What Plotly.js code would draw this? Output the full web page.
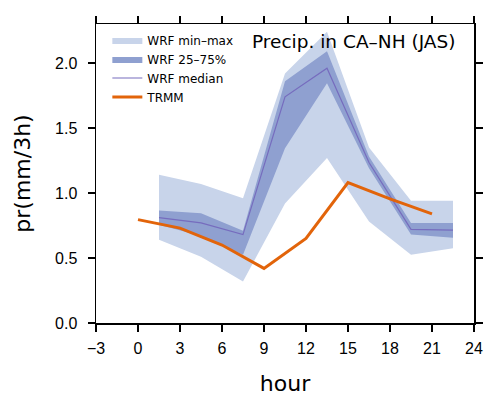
<!DOCTYPE html>
<html>
<head>
<meta charset="utf-8">
<script src="https://cdn.plot.ly/plotly-3.0.1.min.js"></script>
<style>html,body{margin:0;padding:0;background:#fff;}#chart{width:487px;height:398px;}</style>
</head>
<body>
<div id="chart"></div>
<script>
var hoursWRF = [1.5, 4.5, 7.5, 10.5, 13.5, 16.5, 19.5, 22.5];
var wrfMin = [0.64, 0.51, 0.32, 0.92, 1.27, 0.78, 0.525, 0.575];
var wrfMax = [1.14, 1.07, 0.96, 1.92, 2.24, 1.35, 0.94, 0.94];
var wrfP25 = [0.755, 0.67, 0.525, 1.345, 1.845, 1.19, 0.68, 0.655];
var wrfP75 = [0.865, 0.845, 0.71, 1.86, 2.09, 1.28, 0.77, 0.77];
var wrfMed = [0.81, 0.77, 0.68, 1.74, 1.96, 1.235, 0.72, 0.715];
var hoursTRMM = [0, 3, 6, 9, 12, 15, 18, 21];
var trmm = [0.795, 0.73, 0.60, 0.42, 0.65, 1.08, 0.955, 0.84];
var xTicks = [-3, 0, 3, 6, 9, 12, 15, 18, 21, 24];
var yTicks = [0.0, 0.5, 1.0, 1.5, 2.0];

var cMinMax = 'rgb(200,212,234)';
var cIQR = 'rgb(143,160,208)';
var cMed = 'rgb(118,108,190)';
var cTRMM = 'rgb(226,100,10)';

var traces = [
  {x: hoursWRF, y: wrfMin, mode: 'lines', line: {width: 0, color: cMinMax}, showlegend: false, hoverinfo: 'skip'},
  {x: hoursWRF, y: wrfMax, mode: 'lines', line: {width: 0, color: cMinMax}, fill: 'tonexty', fillcolor: cMinMax, name: 'WRF min\u2013max'},
  {x: hoursWRF, y: wrfP25, mode: 'lines', line: {width: 0, color: cIQR}, showlegend: false, hoverinfo: 'skip'},
  {x: hoursWRF, y: wrfP75, mode: 'lines', line: {width: 0, color: cIQR}, fill: 'tonexty', fillcolor: cIQR, name: 'WRF 25\u201375%'},
  {x: hoursWRF, y: wrfMed, mode: 'lines', line: {width: 1.2, color: cMed}, name: 'WRF median'},
  {x: hoursTRMM, y: trmm, mode: 'lines', line: {width: 3, color: cTRMM}, name: 'TRMM'}
];

var tickFont = {family: 'Liberation Sans, Arial, sans-serif', size: 16, color: '#000'};
var axisCommon = {
  showline: true, linecolor: '#000', linewidth: 1.5, mirror: 'ticks',
  ticks: 'outside', ticklen: 7, tickwidth: 1.2, tickcolor: '#000',
  showgrid: false, zeroline: false, tickfont: tickFont
};

var layout = {
  width: 487, height: 398,
  margin: {l: 96, r: 13, t: 24, b: 75},
  paper_bgcolor: '#fff', plot_bgcolor: '#fff',
  font: {family: 'DejaVu Sans, sans-serif', color: '#000'},
  xaxis: Object.assign({}, axisCommon, {
    range: [-3, 24], tickvals: xTicks, ticktext: xTicks.map(function(v){return v < 0 ? '\u2212' + Math.abs(v) : String(v);}),
    ticklabelstandoff: 3,
    title: {text: 'hour', font: {family: 'DejaVu Sans, sans-serif', size: 22, color: '#000'}, standoff: 20}
  }),
  yaxis: Object.assign({}, axisCommon, {
    range: [0, 2.3], tickvals: yTicks, ticktext: yTicks.map(function(v){return v.toFixed(1);}),
    ticklabelstandoff: 7,
    title: {text: 'pr(mm/3h)', font: {family: 'DejaVu Sans, sans-serif', size: 22, color: '#000'}, standoff: 18}
  }),
  showlegend: true,
  legend: {x: 0.03, y: 0.995, xanchor: 'left', yanchor: 'top', bgcolor: 'rgba(0,0,0,0)',
           traceorder: 'normal',
           font: {family: 'DejaVu Sans, sans-serif', size: 12, color: '#000'}, itemwidth: 30, tracegroupgap: 0},
  annotations: [{
    text: 'Precip. in CA\u2013NH (JAS)', xref: 'paper', yref: 'paper',
    x: 0.955, y: 0.94, xanchor: 'right', yanchor: 'middle', showarrow: false,
    font: {family: 'DejaVu Sans, sans-serif', size: 18.5, color: '#000'}
  }]
};

Plotly.newPlot('chart', traces, layout, {displayModeBar: false, staticPlot: true});
</script>
</body>
</html>
